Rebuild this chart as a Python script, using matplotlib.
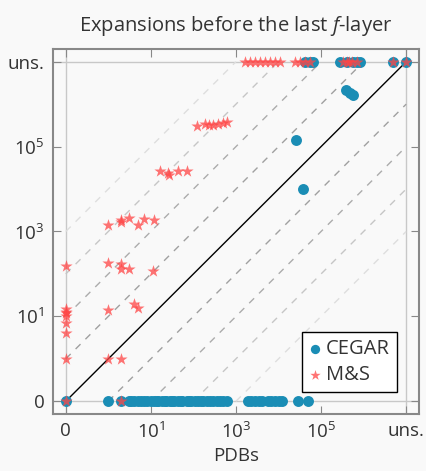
import numpy as np
import matplotlib.pyplot as plt

plt.rcParams['font.family'] = ['Open Sans', 'DejaVu Sans']
plt.rcParams['mathtext.fontset'] = 'custom'
plt.rcParams['mathtext.rm'] = 'Open Sans'
plt.rcParams['mathtext.it'] = 'Open Sans:italic'

UNS = np.inf  # unsolved

# CEGAR: x = PDBs expansions, y = CEGAR expansions
cegar_x = [0, 1, 2, 3, 3.5, 4, 5, 6, 7, 8, 10, 12, 14, 15, 18, 21, 23, 28, 32,
           35, 43, 50, 55, 71, 80, 90, 110, 130, 150, 170, 210, 250, 290, 350,
           420, 500, 610,
           1900, 2300, 2800, 3400, 4100, 5600, 6800, 8300, 10000, 12000,
           29000, 49000,
           42000, 55000, 65000, 280000, 400000, 550000, 700000, 830000, 4.9e6, UNS,
           390000, 480000, 560000, 26000, 38000]
cegar_y = [0] * 49 + [UNS] * 10 + [2.2e6, 1.8e6, 1.6e6, 140000, 9800]

# M&S: x = PDBs expansions, y = M&S expansions
ms_x = [1600, 2100, 2800, 3700, 4800, 6300, 8300, 11000,
        25000, 32000, 42000, 55000, 330000, 400000, 450000, 520000, 700000, 4.9e6, UNS,
        120, 190, 230, 290, 380, 490, 620,
        16, 25, 26, 44, 71,
        1, 2, 2, 3, 5, 7, 12,
        0, 1, 2, 2, 3, 11,
        0, 0, 0, 0, 0, 0, 1, 4, 5,
        0, 1, 2, 0, 2]
ms_y = [UNS] * 19 + \
       [310000, 350000, 330000, 330000, 350000, 360000, 380000] + \
       [26000, 24000, 22000, 26000, 27000] + \
       [1450, 1900, 1700, 2100, 1400, 2000, 1900] + \
       [150, 180, 170, 130, 130, 115] + \
       [15, 13, 12, 10, 7, 4, 14, 20, 16] + \
       [1, 1, 1, 0, 0]

tick_vals = [0, 10, 1e3, 1e5, UNS]
tick_labels = ['0', '$10^1$', '$10^3$', '$10^5$', 'uns.']

ZERO, TOP = 0.1, 1e7


def pos(v):
    v = np.asarray(v, dtype=float)
    return np.where(v == 0, ZERO, np.where(np.isinf(v), TOP, v))


bg = '#f9f9f9'
fig = plt.figure(figsize=(4.26, 4.71), dpi=100, facecolor=bg)
ax = fig.add_axes([0.1244, 0.121, 0.859, 0.775], facecolor=bg)
ax.set_xscale('log')
ax.set_yscale('log')
lo, hi = 10 ** -1.3, 10 ** 7.3
ax.set_xlim(lo, hi)
ax.set_ylim(lo, hi)

# reference lines
ax.axhline(ZERO, color='#c8c8c8', lw=1, zorder=1)
ax.axhline(TOP, color='#c8c8c8', lw=1, zorder=1)
ax.axvline(ZERO, color='#c8c8c8', lw=1, zorder=1)
ax.axvline(TOP, color='#c8c8c8', lw=1, zorder=1)
ax.plot([ZERO, TOP], [ZERO, TOP], color='black', lw=1, zorder=2)
greys = {1: '#a0a0a0', 2: '#acacac', 3: '#c6c6c6', 4: '#dedede'}
for k, c in greys.items():
    for s in (k, -k):
        xs = np.array([-1, 7 - s]) if s > 0 else np.array([-1 - s, 7])
        ax.plot(10.0 ** xs, 10.0 ** (xs + s), color=c, lw=1,
                dashes=(5, 5), zorder=1.5)

ax.scatter(pos(cegar_x), pos(cegar_y), s=62, color='#1a8db5', lw=0,
           zorder=3, label='CEGAR')
ax.scatter(pos(ms_x), pos(ms_y), s=85, marker='*', color='#ff4545',
           alpha=0.75, lw=0, zorder=4, label='M&S')

ax.set_xticks(pos(tick_vals))
ax.set_xticklabels(tick_labels)
ax.set_yticks(pos(tick_vals))
ax.set_yticklabels(tick_labels)
ax.minorticks_off()
ax.tick_params(direction='in', length=6, color='#888888', labelsize=13.5,
               labelcolor='#333333', top=True, right=True, pad=6)
for sp in ax.spines.values():
    sp.set_color('#888888')
    sp.set_linewidth(1.5)

ax.set_title('Expansions before the last $f$-layer', fontsize=14.5,
             color='#333333', pad=13)
ax.set_xlabel('PDBs', fontsize=13.5, color='#333333', labelpad=3)

leg = ax.legend(loc='lower right', bbox_to_anchor=(0.94, 0.06),
                borderaxespad=0, fancybox=False, edgecolor='black',
                fontsize=14.5, markerscale=0.85, handlelength=0.6,
                handletextpad=0.25, borderpad=0.35, labelspacing=0.3,
                framealpha=1)
leg.get_frame().set_linewidth(1)
for t in leg.get_texts():
    t.set_color('#333333')

fig.savefig('out.png', dpi=100, facecolor=bg)
